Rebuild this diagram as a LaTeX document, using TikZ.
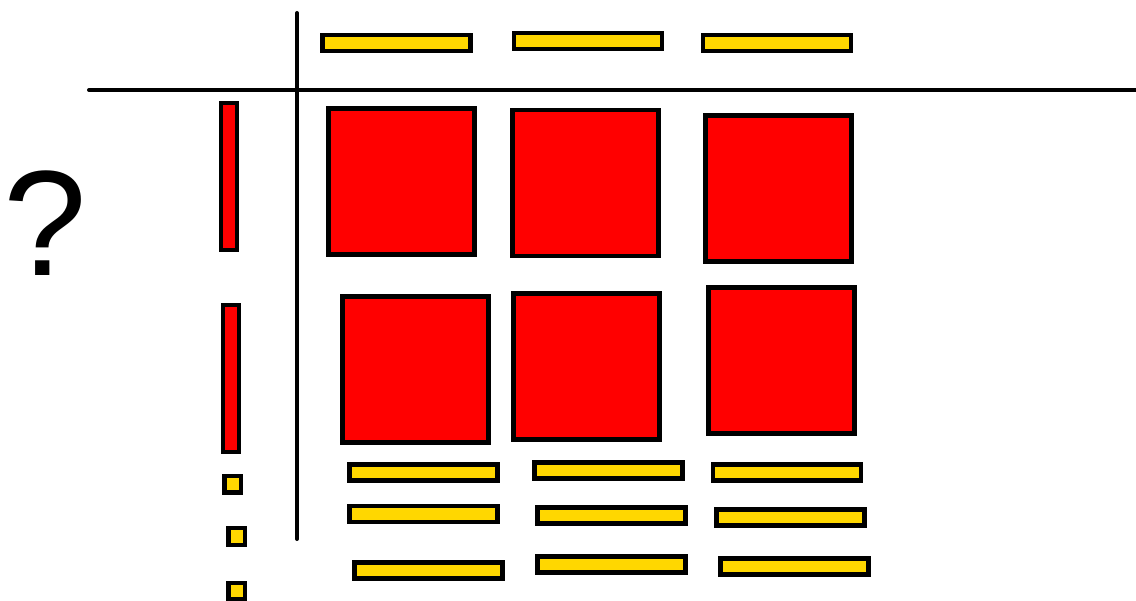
\documentclass[tikz,border=0pt]{standalone}
\usepackage{fontspec}
\setmainfont{Liberation Sans}
\definecolor{tilered}{HTML}{FF0000}
\definecolor{tileyellow}{HTML}{FFD700}
\tikzset{
  tile/.style={draw=black, line width=4.5pt, inner sep=0pt, outer sep=0pt, rectangle},
  redsq/.style={tile, fill=tilered, minimum width=146pt, minimum height=146pt},
  redbar/.style={tile, fill=tilered, minimum width=16pt, minimum height=147pt},
  ybar/.style={tile, fill=tileyellow, minimum width=148pt, minimum height=16pt},
  ysq/.style={tile, fill=tileyellow, minimum width=16.5pt, minimum height=16.5pt},
  axisline/.style={line width=4pt, line cap=round}
}
\begin{document}
\begin{tikzpicture}[x=1pt,y=-1pt]
\useasboundingbox (0,0) rectangle (1136,601);
% axes
\coordinate (vtop) at (297,13);
\coordinate (vbot) at (297,539);
\coordinate (hleft) at (89,90);
\coordinate (hright) at (1136,90);
\draw[axisline] (vtop) -- (vbot);
\draw[axisline] (hleft) -- (hright);
% question mark
\node[inner sep=0pt, font=\fontsize{150}{150}\selectfont] (q) at (45,223) {?};
% top bars
\node[ybar] (t1) at (396.5,43) {};
\node[ybar] (t2) at (588,41) {};
\node[ybar] (t3) at (777,43) {};
% left red bars
\node[redbar] (l1) at (229,176.5) {};
\node[redbar] (l2) at (231,378.5) {};
% left small squares
\node[ysq] (s1) at (232.5,484.5) {};
\node[ysq] (s2) at (236.5,536.5) {};
\node[ysq] (s3) at (236.5,591) {};
% red squares
\node[redsq] (r1) at (401.5,181.5) {};
\node[redsq] (r2) at (585.5,183) {};
\node[redsq] (r3) at (778.5,188.5) {};
\node[redsq] (r4) at (415.5,369.5) {};
\node[redsq] (r5) at (586.5,366.5) {};
\node[redsq] (r6) at (781.5,360.5) {};
% bottom yellow bars
\node[ybar] (b11) at (423.5,472.5) {};
\node[ybar] (b12) at (608.5,470.5) {};
\node[ybar] (b13) at (787,472.5) {};
\node[ybar] (b21) at (423.5,514) {};
\node[ybar] (b22) at (611.5,515.5) {};
\node[ybar] (b23) at (790.5,517.5) {};
\node[ybar] (b31) at (428.5,570.5) {};
\node[ybar] (b32) at (611.5,564.5) {};
\node[ybar] (b33) at (794.5,566.5) {};
\end{tikzpicture}
\end{document}
